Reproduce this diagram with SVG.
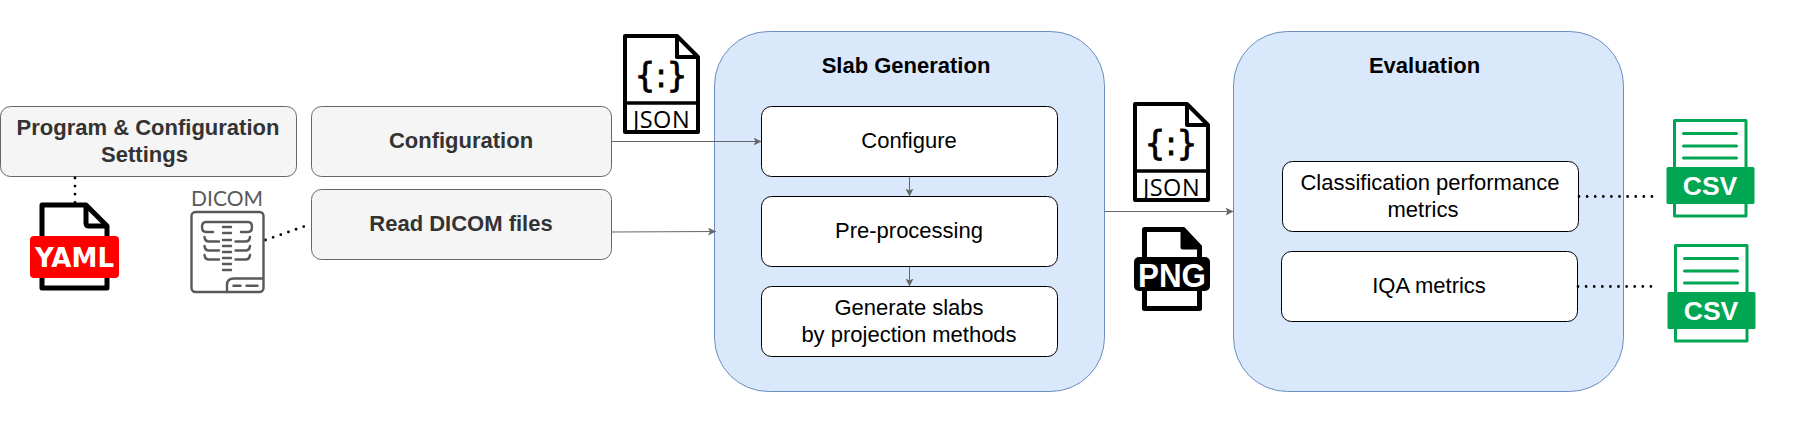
<svg xmlns="http://www.w3.org/2000/svg" xmlns:xlink="http://www.w3.org/1999/xlink" width="1804" height="422" viewBox="0 0 1804 422">
<style>
text{font-family:"Liberation Sans",Arial,sans-serif;text-anchor:middle}
.gray rect{fill:#f5f5f5;stroke:#666;stroke-width:1}
.gray text{font-size:22px;font-weight:700;fill:#333}
.white rect{fill:#fff;stroke:#000;stroke-width:1}
.white text{font-size:22px;fill:#000}
.panel rect{fill:#dae8fc;stroke:#6c8ebf;stroke-width:1}
.panel text{font-size:22px;font-weight:700;fill:#000}
.arrow{fill:none;stroke:#666;stroke-width:1;marker-end:url(#ah)}
.dot{fill:none;stroke:#000;stroke-width:2.800;stroke-linecap:round;stroke-dasharray:0 8.100}
.ic{fill:#fff;stroke:#000;stroke-width:4;stroke-linejoin:round}
.ic5{fill:#fff;stroke:#000;stroke-width:5;stroke-linejoin:round}
.csv{fill:#fff;stroke:#00a651;stroke-width:3;stroke-linejoin:round}
.csvl{stroke:#00a651;stroke-width:3;stroke-linecap:round}
.g{fill:none;stroke:#595959;stroke-width:2.400;stroke-linecap:round;stroke-linejoin:round}
</style>
<defs>
<marker id="ah" viewBox="0 0 8 8" refX="8" refY="4" markerWidth="8" markerHeight="8" orient="auto" markerUnits="userSpaceOnUse"><path d="M0 0L8 4L0 8L2 4Z" fill="#666"/></marker>
<g id="json">
<path class="ic" d="M2 2H54L75 23V98H2Z"/>
<path class="ic" d="M54 2V23H75" style="fill:none"/>
<path d="M2 69H75" stroke="#000" stroke-width="3.500"/>
<text x="38" y="53" style="font-family:'DejaVu Sans',sans-serif;font-size:33px;stroke:#000;stroke-width:.8">{:}</text>
<text x="38.500" y="94" style="font-family:'Open Sans','DejaVu Sans',sans-serif;font-size:23.500px;font-weight:500;letter-spacing:.5px">JSON</text>
</g>
<g id="csvi">
<path class="csv" d="M1.500 1.500H73V97H1.500Z"/>
<path class="csvl" d="M10.500 14.500H63.500M10.500 27H63.500M10.500 39H63.500"/>
<rect x="-6.500" y="48" width="88" height="37" rx="1.500" fill="#00a651"/>
<text x="37" y="76" style="font-size:26.500px;font-weight:700;fill:#fff">CSV</text>
</g>
</defs>

<g id="slab-generation" class="panel"><rect x="714.500" y="31.500" width="390" height="360" rx="54"/><text x="906" y="73">Slab Generation</text></g>
<g id="evaluation" class="panel"><rect x="1233.500" y="31.500" width="390" height="360" rx="54"/><text x="1424.500" y="73">Evaluation</text></g>

<g id="connectors">
<path class="arrow" d="M611.500 141.500H761.500"/>
<path class="arrow" d="M611.500 232L716 231.500"/>
<path class="arrow" d="M909.500 176.500V196.500"/>
<path class="arrow" d="M909.500 266.500V286.500"/>
<path class="arrow" d="M1104.500 211.500H1233.500"/>
</g>

<g id="program-settings" class="gray"><rect x=".5" y="106.500" width="296" height="70" rx="10"/><text x="148" y="135">Program &amp; Configuration</text><text x="144.500" y="162">Settings</text></g>
<g id="configuration" class="gray"><rect x="311.500" y="106.500" width="300" height="70" rx="10"/><text x="461" y="147.500">Configuration</text></g>
<g id="read-dicom" class="gray"><rect x="311.500" y="189.500" width="300" height="70" rx="10"/><text x="461" y="230.500">Read DICOM files</text></g>

<g id="configure" class="white"><rect x="761.500" y="106.500" width="296" height="70" rx="10"/><text x="909" y="147.500">Configure</text></g>
<g id="pre-processing" class="white"><rect x="761.500" y="196.500" width="296" height="70" rx="10"/><text x="909" y="237.500">Pre-processing</text></g>
<g id="generate-slabs" class="white"><rect x="761.500" y="286.500" width="296" height="70" rx="10"/><text x="909" y="315">Generate slabs</text><text x="909" y="342">by projection methods</text></g>
<g id="classification-metrics" class="white"><rect x="1282.500" y="161.500" width="296" height="70" rx="10"/><text x="1430" y="190">Classification performance</text><text x="1423" y="217">metrics</text></g>
<g id="iqa-metrics" class="white"><rect x="1281.500" y="251.500" width="296" height="70" rx="10"/><text x="1429" y="293">IQA metrics</text></g>

<g id="dotted-connectors">
<path class="dot" d="M75 178V203"/>
<path class="dot" d="M265.500 240L311 224"/>
<path class="dot" d="M1579 196.500H1654"/>
<path class="dot" d="M1578 286.500H1652"/>
</g>

<g id="yaml-icon">
<path class="ic5" d="M42 205H86L107 226V288H42Z"/>
<path class="ic5" d="M86 206V223Q86 226 89 226H106" style="fill:none"/>
<rect x="30" y="236" width="89" height="42" rx="4" fill="#f00"/>
<text x="74.500" y="267" textLength="79" lengthAdjust="spacingAndGlyphs" style="font-family:'DejaVu Sans',sans-serif;font-size:26px;font-weight:700;fill:#fff">YAML</text>
</g>

<g id="dicom-icon">
<text x="227" y="206" style="font-family:'Lato','Liberation Sans',sans-serif;font-size:21px;fill:#595959">DICOM</text>
<rect class="g" x="191.500" y="212" width="72" height="80" rx="4"/>
<path class="g" d="M227 292V285Q227 278.500 234 278.500H263"/>
<path class="g" d="M233.500 285.700H240.500M246.500 285.700H257.500"/>
<path class="g" d="M213 232H206Q202 232 202 227V227Q202 222 206 222H248Q252 222 252 227V227Q252 232 248 232H241"/>
<path class="g" d="M223 227H231M223 233H231M223 240H231M223 246H231M223 252H231M223 258H231M223 264H231M223 270H231"/>
<path class="g" d="M204.500 237Q205 241.500 209 241.500H219M250 237Q249.500 241.500 245.500 241.500H235.500M204.500 246Q205 250.500 209 250.500H219M250 246Q249.500 250.500 245.500 250.500H235.500M204.500 255Q205 259.500 209 259.500H219M250 255Q249.500 259.500 245.500 259.500H235.500"/>
</g>

<g id="json-icon-top"><use xlink:href="#json" href="#json" x="623" y="34"/></g>
<g id="json-icon-output"><use xlink:href="#json" href="#json" x="1133" y="102"/></g>

<g id="png-icon">
<path class="ic5" d="M1144.500 229.500H1183L1199.500 247V308.500H1144.500Z"/>
<path d="M1183 229.500L1199.500 247H1183Z" fill="#000" stroke="#000" stroke-width="5" stroke-linejoin="round"/>
<rect x="1134" y="257" width="76" height="34" rx="5" fill="#000"/>
<text x="1172" y="286.500" textLength="68" lengthAdjust="spacingAndGlyphs" style="font-size:34px;font-weight:700;fill:#fff">PNG</text>
</g>

<g id="csv-icon-1"><use xlink:href="#csvi" href="#csvi" x="1673" y="119"/></g>
<g id="csv-icon-2"><use xlink:href="#csvi" href="#csvi" x="1674" y="244"/></g>
</svg>
